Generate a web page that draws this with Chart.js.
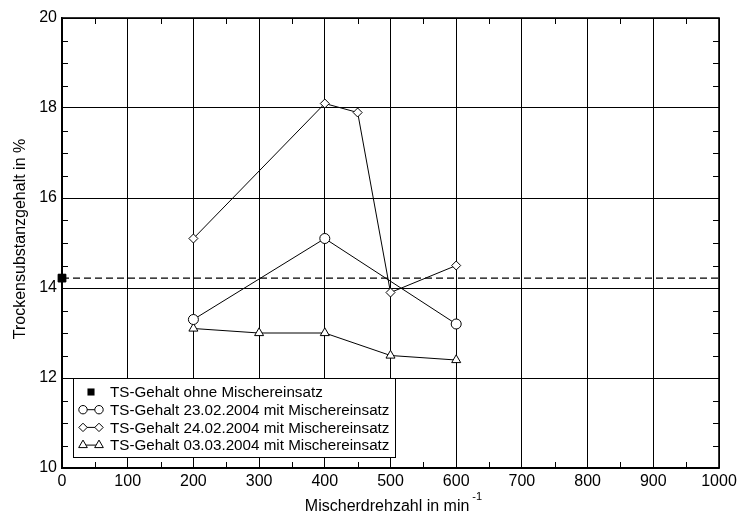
<!DOCTYPE html>
<html>
<head>
<meta charset="utf-8">
<script src="https://cdn.jsdelivr.net/npm/chart.js@4.4.1/dist/chart.umd.min.js"></script>
<style>
  html, body { margin: 0; padding: 0; background: #fff; }
  #wrap { width: 741px; height: 521px; }
</style>
</head>
<body>
<div id="wrap"><canvas id="tsChart" width="741" height="521"></canvas></div>
<script>
const drehzahl2302 = [200, 400, 600];
const ts2302 = [13.3, 15.1, 13.2];
const drehzahl2402 = [200, 400, 450, 500, 600];
const ts2402 = [15.1, 18.1, 17.9, 13.9, 14.5];
const drehzahl0303 = [200, 300, 400, 500, 600];
const ts0303 = [13.1, 13.0, 13.0, 12.5, 12.4];
const tsOhneMischer = 14.22;

const xRange = [0, 1000];
const yRange = [10, 20];

const legendLabels = [
  'TS-Gehalt ohne Mischereinsatz',
  'TS-Gehalt 23.02.2004 mit Mischereinsatz',
  'TS-Gehalt 24.02.2004 mit Mischereinsatz',
  'TS-Gehalt 03.03.2004 mit Mischereinsatz'
];
const legendStyles = ['rect', 'circle', 'rectRot', 'triangle'];

const xTitle = 'Mischerdrehzahl in min';
const xTitleSup = '-1';
const yTitle = 'Trockensubstanzgehalt in %';

const FONT = '"Liberation Sans", Arial, sans-serif';

const toPoints = (xs, ys) => xs.map((x, i) => ({ x: x, y: ys[i] }));

// Rahmen, Innen-Ticks, Achsentitel und Legende
const framePlugin = {
  id: 'frame',
  afterDraw(chart) {
    const ctx = chart.ctx;
    const a = chart.chartArea;
    const xs = chart.scales.x;
    const ys = chart.scales.y;
    ctx.save();

    // kleine Ticks nach innen
    ctx.strokeStyle = '#000';
    ctx.lineWidth = 1;
    ctx.setLineDash([]);
    ctx.beginPath();
    for (let v = 50; v < 1000; v += 100) {
      const px = Math.round(xs.getPixelForValue(v)) + 0.5;
      ctx.moveTo(px, a.bottom); ctx.lineTo(px, a.bottom - 6);
      ctx.moveTo(px, a.top); ctx.lineTo(px, a.top + 6);
    }
    for (let i = 1; i < 20; i++) {
      if (i % 4 === 0) continue;
      const v = yRange[0] + i * 0.5;
      const py = Math.round(ys.getPixelForValue(v)) + 0.5;
      ctx.moveTo(a.left, py); ctx.lineTo(a.left + 6, py);
      ctx.moveTo(a.right, py); ctx.lineTo(a.right - 6, py);
    }
    ctx.stroke();

    // Rahmen
    ctx.lineWidth = 1.6;
    ctx.strokeRect(a.left, a.top, a.right - a.left, a.bottom - a.top);

    // Punkt ohne Mischer über dem Rahmen
    ctx.fillStyle = '#000';
    Chart.helpers.drawPoint(ctx, { pointStyle: 'rect', radius: 5.5, borderWidth: 0 },
      xs.getPixelForValue(0), ys.getPixelForValue(tsOhneMischer));

    // x-Titel mit Hochzahl
    ctx.fillStyle = '#000';
    ctx.textBaseline = 'alphabetic';
    ctx.font = '16px ' + FONT;
    const wMain = ctx.measureText(xTitle).width;
    ctx.font = '11px ' + FONT;
    const wSup = ctx.measureText(xTitleSup).width;
    const cx = (a.left + a.right) / 2 + 3;
    const x0 = cx - (wMain + wSup + 3) / 2;
    ctx.font = '16px ' + FONT;
    ctx.textAlign = 'left';
    ctx.fillText(xTitle, x0, 511);
    ctx.font = '11px ' + FONT;
    ctx.fillText(xTitleSup, x0 + wMain + 3, 500);

    // y-Titel
    ctx.save();
    ctx.translate(25, (a.top + a.bottom) / 2 - 4);
    ctx.rotate(-Math.PI / 2);
    ctx.font = '16px ' + FONT;
    ctx.textAlign = 'center';
    ctx.fillText(yTitle, 0, 0);
    ctx.restore();

    // Legende
    const bx = 73, by = 378, bw = 322, bh = 79;
    ctx.fillStyle = '#fff';
    ctx.fillRect(bx, by, bw, bh);
    ctx.strokeStyle = '#000';
    ctx.lineWidth = 1;
    ctx.strokeRect(bx + 0.5, by + 0.5, bw, bh);
    ctx.font = '15.2px ' + FONT;
    ctx.textAlign = 'left';
    ctx.textBaseline = 'middle';
    legendLabels.forEach((label, i) => {
      const y = by + 14 + i * 17.7;
      const style = legendStyles[i];
      if (style === 'rect') {
        ctx.fillStyle = '#000';
        Chart.helpers.drawPoint(ctx, { pointStyle: 'rect', radius: 5, borderWidth: 0 }, 91, y);
      } else {
        ctx.beginPath();
        ctx.moveTo(83, y); ctx.lineTo(99, y);
        ctx.stroke();
        ctx.fillStyle = '#fff';
        ctx.strokeStyle = '#000';
        ctx.lineWidth = 1;
        const r = style === 'triangle' ? 5 : 4.2;
        Chart.helpers.drawPoint(ctx, { pointStyle: style, radius: r, borderWidth: 1 }, 83, y);
        Chart.helpers.drawPoint(ctx, { pointStyle: style, radius: r, borderWidth: 1 }, 99, y);
      }
      ctx.fillStyle = '#000';
      ctx.fillText(label, 110, y + 1);
    });

    ctx.restore();
  }
};

const lineSeries = (label, data, style, radius) => ({
  label: label,
  data: data,
  borderColor: '#000',
  borderWidth: 1,
  backgroundColor: '#fff',
  pointStyle: style,
  pointRadius: radius,
  pointBorderColor: '#000',
  pointBackgroundColor: '#fff',
  pointBorderWidth: 1,
  tension: 0,
  order: 1
});

new Chart(document.getElementById('tsChart'), {
  type: 'line',
  data: {
    datasets: [
      {
        label: 'ohne Mischer Linie',
        data: toPoints(xRange, [tsOhneMischer, tsOhneMischer]),
        borderColor: '#000',
        borderWidth: 1.2,
        borderDash: [7, 4],
        pointRadius: 0,
        order: 3
      },
      {
        label: legendLabels[0],
        data: toPoints([0], [tsOhneMischer]),
        showLine: false,
        pointStyle: 'rect',
        pointRadius: 5.5,
        pointBackgroundColor: '#000',
        pointBorderColor: '#000',
        pointBorderWidth: 1,
        order: 0
      },
      lineSeries(legendLabels[1], toPoints(drehzahl2302, ts2302), 'circle', 5),
      lineSeries(legendLabels[2], toPoints(drehzahl2402, ts2402), 'rectRot', 4.5),
      lineSeries(legendLabels[3], toPoints(drehzahl0303, ts0303), 'triangle', 5.2)
    ]
  },
  options: {
    responsive: false,
    animation: false,
    devicePixelRatio: 1,
    clip: false,
    layout: { padding: { left: 0, top: 18, right: 22, bottom: 0 } },
    plugins: {
      legend: { display: false },
      tooltip: { enabled: false }
    },
    scales: {
      x: {
        type: 'linear',
        min: xRange[0],
        max: xRange[1],
        afterFit(scale) { scale.height = 53; },
        ticks: {
          stepSize: 100,
          color: '#000',
          padding: 4,
          maxRotation: 0,
          callback: (v) => String(v),
          font: { family: FONT, size: 16 }
        },
        grid: { color: '#000', lineWidth: 1, drawTicks: false },
        border: { display: true, color: '#000', width: 1.6 }
      },
      y: {
        type: 'linear',
        min: yRange[0],
        max: yRange[1],
        afterFit(scale) { scale.width = 62; },
        ticks: {
          stepSize: 2,
          color: '#000',
          padding: 5,
          callback: (v) => String(v),
          font: { family: FONT, size: 16 }
        },
        grid: { color: '#000', lineWidth: 1, drawTicks: false },
        border: { display: true, color: '#000', width: 1.6 }
      }
    }
  },
  plugins: [framePlugin]
});
</script>
</body>
</html>
